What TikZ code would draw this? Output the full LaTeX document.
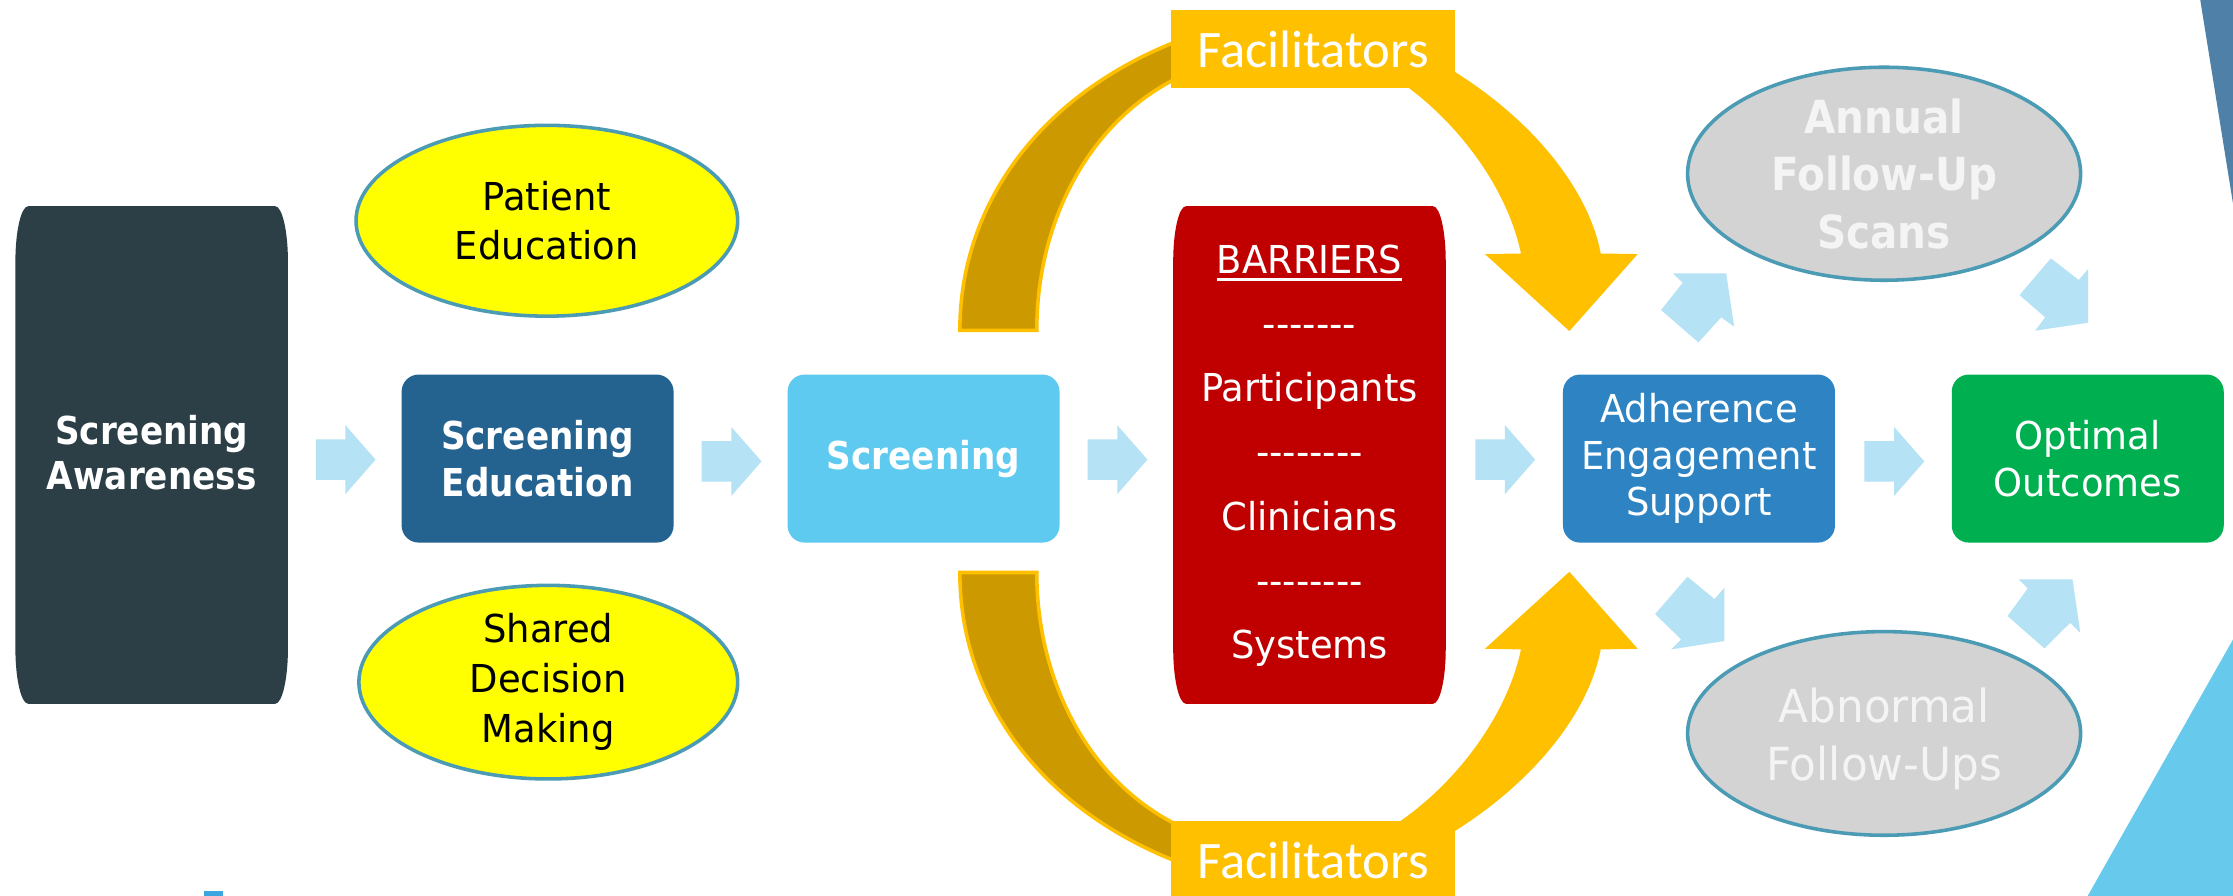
\documentclass[tikz,border=0pt]{standalone}
\usepackage{fontspec}
\setmainfont{DejaVu Sans}
\newfontfamily\fR{DejaVu Sans}[FakeStretch=0.96]
\newfontfamily\fB{DejaVu Sans}[FakeStretch=0.89]
\newfontfamily\fC{Carlito}
\usetikzlibrary{shapes.geometric,shapes.arrows,calc}
\definecolor{awcol}{HTML}{2C3E46}
\definecolor{secol}{HTML}{246290}
\definecolor{sccol}{HTML}{5ECAEF}
\definecolor{brcol}{HTML}{C00000}
\definecolor{adcol}{HTML}{2E83C3}
\definecolor{oocol}{HTML}{00B050}
\definecolor{ellcol}{HTML}{4B9BB5}
\definecolor{yel}{HTML}{FFFF00}
\definecolor{grayfill}{HTML}{D3D3D3}
\definecolor{graytext}{HTML}{F4F4F4}
\definecolor{gold}{HTML}{FFC000}
\definecolor{dgold}{HTML}{CC9A00}
\definecolor{arrcol}{HTML}{B5E2F4}
\definecolor{triA}{HTML}{4F81A8}
\definecolor{triB}{HTML}{67C9EC}
\definecolor{smallb}{HTML}{3BA6E0}
\newcommand\myul[1]{\setbox0\hbox{#1}\rlap{\rule[-5pt]{\wd0}{2pt}}\box0}
\newcommand\elbox[2]{%
\fill[#2] ($(#1.north west)+(9,0)$) -- ($(#1.north east)+(-9,0)$)
 .. controls ($(#1.north east)+(-4.03,0)$) and ($(#1.north east)+(0,17.5)$) .. ($(#1.north east)+(0,39)$)
 -- ($(#1.south east)+(0,-39)$)
 .. controls ($(#1.south east)+(0,-17.5)$) and ($(#1.south east)+(-4.03,0)$) .. ($(#1.south east)+(-9,0)$)
 -- ($(#1.south west)+(9,0)$)
 .. controls ($(#1.south west)+(4.03,0)$) and ($(#1.south west)+(0,-17.5)$) .. ($(#1.south west)+(0,-39)$)
 -- ($(#1.north west)+(0,39)$)
 .. controls ($(#1.north west)+(0,17.5)$) and ($(#1.north west)+(4.03,0)$) .. cycle;}
\newcommand\fachalf{%
\filldraw[fill=dgold, draw=gold, line width=2.5pt] (674,232) .. controls (674,140) and (735,60) .. (840,24) -- (842,48) .. controls (770,75) and (728,150) .. (728,232) -- cycle;
\fill[gold] (1000,38) .. controls (1070,75) and (1115,130) .. (1124,178) -- (1150,178.4) -- (1102,232.5) -- (1042.7,178.4) -- (1068,178) .. controls (1058,130) and (1020,80) .. (975,52) -- cycle;}
\tikzset{
 harr/.style={shape=single arrow, fill=arrcol, draw=none, minimum height=42pt, minimum width=48pt, inner xsep=0pt, inner ysep=14pt, single arrow tip angle=97.6, single arrow head extend=10pt, xshift=-5.5pt, yshift=-2pt},
 rbox/.style={rounded corners=12pt, minimum width=191pt, minimum height=118pt, inner sep=0pt, text=white, align=center},
 tallframe/.style={minimum width=191pt, minimum height=349pt, inner sep=0pt},
 ell/.style={ellipse, draw=ellcol, line width=2.5pt, inner sep=0pt, align=center},
 fac/.style={fill=gold, minimum width=200pt, minimum height=55pt, inner sep=0pt, text=white, font=\fC\fontsize{37}{40}\selectfont},
 diag/.style={fill=arrcol, draw=none}
}
\begin{document}
\begin{tikzpicture}[x=1pt,y=-1pt]
\clip (0,0) rectangle (1568,629);
\fill[white] (0,0) rectangle (1568,629);
% facilitator arcs
\fachalf
\begin{scope}[shift={(0,634)}, yscale=-1]
\fachalf
\end{scope}
% main boxes
\node[tallframe] (aw) at (106.5,319.5) {};
\elbox{aw}{awcol}
\node[text=white, align=center, font=\fB\bfseries\fontsize{27}{32}\selectfont] (awt) at (106.5,318) {Screening\\Awareness};
\node[rbox, fill=secol, font=\fB\bfseries\fontsize{27}{33}\selectfont] (se) at (377.5,322) {Screening\\Education};
\node[rbox, fill=sccol, font=\fB\bfseries\fontsize{27}{33}\selectfont] (sc) at (648.5,322) {Screening};
\node[tallframe] (br) at (919.5,319.5) {};
\elbox{br}{brcol}
\node[text=white, align=center, font=\fR\fontsize{27}{45}\selectfont] (brt) at (919.5,320) {\myul{BARRIERS}\\-\kern0pt-\kern0pt-\kern0pt-\kern0pt-\kern0pt-\kern0pt-\\Participants\\-\kern0pt-\kern0pt-\kern0pt-\kern0pt-\kern0pt-\kern0pt-\kern0pt-\\Clinicians\\-\kern0pt-\kern0pt-\kern0pt-\kern0pt-\kern0pt-\kern0pt-\kern0pt-\\Systems};
\node[rbox, fill=adcol, font=\fR\fontsize{27}{32.5}\selectfont] (ad) at (1193,322) {Adherence\\Engagement\\Support};
\node[rbox, fill=oocol, font=\fR\fontsize{27}{33}\selectfont] (oo) at (1466,322) {Optimal\\Outcomes};
% facilitators labels
\node[fac] (ft) at (922,34.5) {Facilitators};
\node[fac] (fb) at (922,604) {Facilitators};
% ellipses
\node[ell, fill=yel, minimum width=268pt, minimum height=134pt, font=\fR\fontsize{27}{34}\selectfont] (pe) at (384,155) {Patient\\Education};
\node[ell, fill=yel, minimum width=266pt, minimum height=132pt, font=\fR\fontsize{27}{35}\selectfont] (sd) at (385,479) {Shared\\Decision\\Making};
\node[ell, fill=grayfill, text=graytext, minimum width=276pt, minimum height=140pt, font=\fB\bfseries\fontsize{32}{40.5}\selectfont] (an) at (1323,122) {Annual\\Follow-Up\\Scans};
\node[ell, fill=grayfill, text=graytext, minimum width=276pt, minimum height=143pt, font=\fR\fontsize{32}{41}\selectfont] (ab) at (1323,515) {};
\node[text=graytext, align=center, font=\fR\fontsize{32}{41}\selectfont] (abt) at (1323,519) {Abnormal\\Follow-Ups};
% horizontal block arrows
\node[harr] (h1) at ($(aw.east)!0.5!(se.west)$) {};
\node[harr] (h2) at ($(se.east)!0.5!(sc.west)$) {};
\node[harr] (h3) at ($(sc.east)!0.5!(br.west)$) {};
\node[harr] (h4) at ($(br.east)!0.5!(ad.west)$) {};
\node[harr] (h5) at ($(ad.east)!0.5!(oo.west)$) {};
% diagonal block arrows
\fill[diag] (1166.4,217.7) -- (1192.6,240.4) -- (1208.6,222.8) -- (1217.7,229.4) -- (1212.1,191.9) -- (1174.6,191.9) -- (1181.6,198.5) -- cycle;
\fill[diag] (1418.1,207.2) -- (1440.1,181.4) -- (1459.7,196.6) -- (1466.3,188.9) -- (1466.3,226.6) -- (1429.1,232.2) -- (1436.1,222.8) -- cycle;
\fill[diag] (1162.2,431.2) -- (1184.9,405) -- (1203.9,420.6) -- (1210.9,412.7) -- (1210.9,450.1) -- (1173.5,456) -- (1180.5,449) -- cycle;
\fill[diag] (1409.7,432.6) -- (1435.6,455.3) -- (1453.7,437.3) -- (1460.7,444.3) -- (1455.3,406.8) -- (1417.4,406.8) -- (1423.9,413.1) -- cycle;
% decorative corners
\fill[triA] (1545,0) -- (1568,0) -- (1568,143) -- cycle;
\fill[triB] (1466,629) -- (1568,449) -- (1568,629) -- cycle;
\fill[smallb] (143.3,625.7) rectangle (156.6,632);
\end{tikzpicture}
\end{document}
